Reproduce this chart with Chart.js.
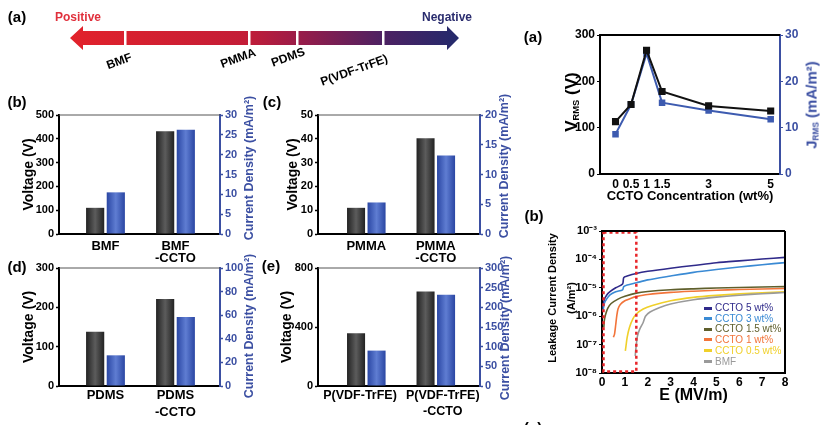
<!DOCTYPE html>
<html><head><meta charset="utf-8">
<script src="https://cdn.jsdelivr.net/npm/chart.js@4.4.1/dist/chart.umd.min.js"></script>
<style>
html,body{margin:0;padding:0;background:#fff;}
body{width:833px;height:425px;overflow:hidden;position:relative;font-family:"Liberation Sans",Arial,sans-serif;}
canvas{position:absolute;left:0;top:0;}
.t{position:absolute;white-space:nowrap;font-weight:bold;line-height:1;transform:translate(-50%,-50%);z-index:5;}
.r90{transform:translate(-50%,-50%) rotate(-90deg);}
.blue{color:#3b4fa2;}
sub{font-size:0.55em;vertical-align:-0.2em;}
.lg{position:absolute;left:704px;font-family:"Liberation Sans",Arial,sans-serif;font-size:10px;line-height:1;white-space:nowrap;transform:translateY(-50%);z-index:5;}
.lg i{display:inline-block;width:8px;height:3px;margin-right:3px;vertical-align:middle;}
</style></head>
<body>
<svg width="833" height="90" style="position:absolute;left:0;top:0">
<defs><linearGradient id="ag" x1="70" x2="459" y1="0" y2="0" gradientUnits="userSpaceOnUse">
<stop offset="0" stop-color="#e2222b"/><stop offset="0.45" stop-color="#c31d37"/><stop offset="0.58" stop-color="#9c1c48"/><stop offset="0.8" stop-color="#4e2162"/><stop offset="1" stop-color="#232a6c"/></linearGradient></defs>
<polygon points="70,38 83,26 83,31 447,31 447,26 459,38 447,50 447,45 83,45 83,50" fill="url(#ag)"/>
<rect x="124" y="29" width="2.5" height="18" fill="#fff"/>
<rect x="248" y="29" width="2.5" height="18" fill="#fff"/>
<rect x="296" y="29" width="2.5" height="18" fill="#fff"/>
<rect x="382" y="29" width="2.5" height="18" fill="#fff"/>
</svg>
<div class="t" style="left:17px;top:16px;font-size:15px">(a)</div>
<div class="t" style="left:78px;top:17px;font-size:12px;color:#e0303c">Positive</div>
<div class="t" style="left:447px;top:17px;font-size:12px;color:#2a2c6e">Negative</div>
<div class="t" style="left:119px;top:61px;font-size:12px;transform:translate(-50%,-50%) rotate(-20deg)">BMF</div>
<div class="t" style="left:238px;top:58px;font-size:12px;transform:translate(-50%,-50%) rotate(-20deg)">PMMA</div>
<div class="t" style="left:288px;top:57px;font-size:12px;transform:translate(-50%,-50%) rotate(-20deg)">PDMS</div>
<div class="t" style="left:354px;top:70px;font-size:12px;transform:translate(-50%,-50%) rotate(-20deg)">P(VDF-TrFE)</div>

<div class="t" style="left:17px;top:101px;font-size:15px">(b)</div>
<div class="t" style="left:272px;top:101px;font-size:15px">(c)</div>
<div class="t" style="left:17px;top:266px;font-size:15px">(d)</div>
<div class="t" style="left:271px;top:265px;font-size:15px">(e)</div>
<div class="t" style="left:533px;top:36px;font-size:15px">(a)</div>
<div class="t" style="left:534px;top:215px;font-size:15px">(b)</div>
<div class="t" style="left:533px;top:427px;font-size:15px">(c)</div>

<div class="t r90 blue" style="left:249px;top:168px;font-size:12.5px">Current Density (mA/m²)</div>
<div class="t r90 blue" style="left:504px;top:166px;font-size:12.5px">Current Density (mA/m²)</div>
<div class="t r90 blue" style="left:249px;top:326px;font-size:12.5px">Current Density (mA/m²)</div>
<div class="t r90 blue" style="left:505px;top:328px;font-size:12.5px">Current Density (mA/m²)</div>

<div class="t r90" style="left:572px;top:102px;font-size:17px">V<sub>RMS</sub> (V)</div>
<div class="t r90 blue" style="left:812px;top:105px;font-size:15px">J<sub>RMS</sub> (mA/m²)</div>
<div class="t r90" style="left:562px;top:298px;font-size:11px;line-height:19px;text-align:center">Leakage Current Density<br>(A/m²)</div>

<div id="legend"></div>

<canvas id="cb" width="833" height="425"></canvas>
<canvas id="cc" width="833" height="425"></canvas>
<canvas id="cd" width="833" height="425"></canvas>
<canvas id="ce" width="833" height="425"></canvas>
<canvas id="ca2" width="833" height="425"></canvas>
<canvas id="cb2" width="833" height="425"></canvas>

<script>
// ---------------- DATA ----------------
const bmfCats = ['BMF', ['BMF', '-CCTO']];
const bmfVoltage = [110, 432];
const bmfCurrent = [10.5, 26.3];

const pmmaCats = ['PMMA', ['PMMA', '-CCTO']];
const pmmaVoltage = [11, 40.2];
const pmmaCurrent = [5.3, 13.2];

const pdmsCats = ['PDMS', ['PDMS', '-CCTO']];
const pdmsVoltage = [138, 221];
const pdmsCurrent = [26, 58.4];

const pvdfCats = ['P(VDF-TrFE)', ['P(VDF-TrFE)', '-CCTO']];
const pvdfVoltage = [358, 641];
const pvdfCurrent = [90, 232];

const cctoWt = [0, 0.5, 1, 1.5, 3, 5];
const vRms = [113, 150, 267, 178, 147, 136];
const jRms = [8.6, 15, 26, 15.4, 13.7, 11.8];
const cctoTicks = [0, 0.5, 1, 1.5, 3, 5];

const leakNames = ['CCTO 5 wt%', 'CCTO 3 wt%', 'CCTO 1.5 wt%', 'CCTO 1 wt%', 'CCTO 0.5 wt%', 'BMF'];
const leakE5 = [0.04,0.1,0.2,0.35,0.6,0.9,0.95,1.1,1.5,2,3,4,5,6,7,8];
const leakJ5 = [2.0e-6,3.8e-6,5.5e-6,7.3e-6,1.0e-5,1.35e-5,2.3e-5,2.6e-5,3.2e-5,3.8e-5,4.9e-5,6.1e-5,7.6e-5,8.9e-5,1.03e-4,1.18e-4];
const leakE3 = [0.04,0.1,0.2,0.35,0.6,0.9,0.95,1.1,1.5,2,3,4,5,6,7,8];
const leakJ3 = [1.5e-6,2.8e-6,4.0e-6,5.6e-6,7.2e-6,8.5e-6,1.1e-5,1.25e-5,1.5e-5,1.9e-5,2.6e-5,3.5e-5,4.4e-5,5.4e-5,6.5e-5,7.7e-5];
const leakE15 = [0.08,0.1,0.15,0.25,0.4,0.7,1.0,1.5,2,3,4,5,6,7,8];
const leakJ15 = [4e-7,7e-7,1.1e-6,1.9e-6,2.8e-6,4.0e-6,5.0e-6,6.5e-6,7.4e-6,8.5e-6,9.2e-6,9.8e-6,1.03e-5,1.07e-5,1.1e-5];
const leakE1 = [0.5,0.55,0.6,0.65,0.7,0.8,1.0,1.3,1.5,2,3,4,5,6,7,8];
const leakJ1 = [1.8e-7,2.4e-7,5e-7,1.1e-6,1.8e-6,2.6e-6,3.5e-6,4.4e-6,4.9e-6,5.8e-6,6.9e-6,7.6e-6,8.2e-6,8.7e-6,9.1e-6,9.5e-6];
const leakE05 = [1.02,1.05,1.1,1.2,1.35,1.5,1.8,2.2,3,4,5,6,7,8];
const leakJ05 = [6e-8,9e-8,1.8e-7,4e-7,8e-7,1.2e-6,1.8e-6,2.4e-6,3.5e-6,4.6e-6,5.4e-6,6.1e-6,6.7e-6,7.2e-6];
const leakEBmf = [1.45,1.5,1.55,1.65,1.8,1.9,2.1,2.5,3,4,5,6,7,8];
const leakJBmf = [4e-8,1e-7,2e-7,3.5e-7,6e-7,1e-6,1.4e-6,2e-6,2.7e-6,3.8e-6,4.7e-6,5.5e-6,6.2e-6,6.8e-6];
const leakDecades = [-8, -7, -6, -5, -4, -3];
const eTicks = [0, 1, 2, 3, 4, 5, 6, 7, 8];
const dashRegion = [0, 1.5];

// ---------------- STYLE ----------------
const W = 833, H = 425;
const BLUE = '#3b4fa2';
const leakColors = ['#2f2a8a', '#3a8ad4', '#5f5f2c', '#f2743a', '#f0d02a', '#9a9a9a'];
Chart.defaults.font.family = '"Liberation Sans", Arial, sans-serif';
Chart.defaults.font.weight = 'bold';
Chart.defaults.animation = false;

const shadePlugin = {
  id: 'shade',
  beforeDatasetsDraw(chart) {
    const ctx = chart.ctx;
    chart.data.datasets.forEach((ds, i) => {
      const meta = chart.getDatasetMeta(i);
      meta.data.forEach(el => {
        const w = el.width, x0 = el.x - w / 2;
        const g = ctx.createLinearGradient(x0, 0, x0 + w, 0);
        g.addColorStop(0, ds.shade[0]); g.addColorStop(0.5, ds.shade[1]); g.addColorStop(1, ds.shade[0]);
        el.options.backgroundColor = g;
      });
    });
  }
};
function lines(sides) {
  return { id: 'frameLines', afterDraw(c) {
    const a = c.chartArea, x = c.ctx;
    x.save();
    sides.forEach(s => {
      x.strokeStyle = s.color; x.lineWidth = s.width; x.beginPath();
      if (s.side === 'top') { x.moveTo(a.left, a.top); x.lineTo(a.right, a.top); }
      if (s.side === 'right') { x.moveTo(a.right, a.top); x.lineTo(a.right, a.bottom); }
      x.stroke();
    });
    x.restore();
  }};
}
function pad(g) { return { left: g.L - g.lw, right: W - g.R - g.rw, top: g.T, bottom: H - g.B - g.bh }; }

function barPanel(id, g, cats, volt, curr, lMax, lStep, rMax, rStep) {
  const labelPos = g.labelPos || cats.map((c, i) => i + 1);
  return new Chart(document.getElementById(id), {
    type: 'bar',
    data: { datasets: [
      { data: volt.map((v, i) => ({ x: i + 1, y: v })), yAxisID: 'y', shade: ['#222222', '#5c5c5c'],
        backgroundColor: () => '#333', borderWidth: 0, categoryPercentage: 0.59, barPercentage: 0.88 },
      { data: curr.map((v, i) => ({ x: i + 1, y: v })), yAxisID: 'y1', shade: ['#2a46a3', '#5f7dd2'],
        backgroundColor: () => '#3a5ab8', borderWidth: 0, categoryPercentage: 0.59, barPercentage: 0.88 }
    ]},
    options: {
      responsive: false, animation: false,
      layout: { padding: pad(g) },
      plugins: { legend: { display: false }, tooltip: { enabled: false } },
      scales: {
        x: { type: 'linear', min: g.xmin, max: g.xmax, offset: false,
          afterBuildTicks: s => { s.ticks = labelPos.map(v => ({ value: v })); },
          afterFit: s => { s.height = g.bh; },
          grid: { display: false, drawTicks: false, offset: false }, border: { color: '#000', width: 2 },
          ticks: { padding: g.lp, maxRotation: 0, minRotation: 0, autoSkip: false, color: '#000',
            font: { size: g.fs || 13, weight: 'bold', lineHeight: g.lh }, callback: (v, i) => cats[i] } },
        y: { position: 'left', min: 0, max: lMax, afterFit: s => { s.width = g.lw; },
          grid: { drawOnChartArea: false, tickLength: 3, tickColor: '#000', tickWidth: 1.5 },
          border: { color: '#000', width: 2 },
          ticks: { stepSize: lStep, padding: 2, color: '#000', autoSkip: false, font: { size: 11, weight: 'bold' } },
          title: { display: true, text: 'Voltage (V)', color: '#000', font: { size: 14, weight: 'bold' }, padding: { top: 5, bottom: 0 } } },
        y1: { position: 'right', min: 0, max: rMax, afterFit: s => { s.width = g.rw; },
          grid: { drawOnChartArea: false, tickLength: 3, tickColor: BLUE, tickWidth: 1.5 },
          border: { color: BLUE, width: 2 },
          ticks: { stepSize: rStep, padding: 2, color: BLUE, autoSkip: false, font: { size: 11, weight: 'bold' } } }
      }
    },
    plugins: [shadePlugin, lines([{ side: 'top', color: '#555', width: 1 }])]
  });
}

const topRow = { lp: 6, lh: 0.96 };
const botRow = { lp: 1, lh: 1.3 };
barPanel('cb', Object.assign({ L: 59, R: 220, T: 115, B: 234, lw: 43, rw: 30, bh: 32, xmin: 0.336, xmax: 2.636 }, topRow),
  bmfCats, bmfVoltage, bmfCurrent, 500, 100, 30, 5);
barPanel('cc', Object.assign({ L: 318, R: 480, T: 115, B: 234, lw: 38, rw: 30, bh: 32, xmin: 0.305, xmax: 2.636 }, topRow),
  pmmaCats, pmmaVoltage, pmmaCurrent, 50, 10, 20, 5);
barPanel('cd', Object.assign({ L: 59, R: 220, T: 268, B: 386, lw: 43, rw: 30, bh: 36, xmin: 0.336, xmax: 2.636 }, botRow),
  pdmsCats, pdmsVoltage, pdmsCurrent, 300, 100, 100, 20);
barPanel('ce', Object.assign({ L: 318, R: 480, T: 268, B: 386, lw: 44, rw: 30, bh: 36, xmin: 0.305, xmax: 2.636,
  labelPos: [0.91, 2.1], fs: 12.5 }, botRow),
  pvdfCats, pvdfVoltage, pvdfCurrent, 800, 400, 300, 50);

// ---------- right (a): V_RMS / J_RMS vs CCTO ----------
const gA = { L: 600, R: 780, T: 35, B: 174, lw: 40, rw: 20, bh: 30 };
new Chart(document.getElementById('ca2'), {
  type: 'line',
  data: { datasets: [
    { data: cctoWt.map((x, i) => ({ x, y: vRms[i] })), yAxisID: 'y', borderColor: '#111', backgroundColor: '#111',
      borderWidth: 2, pointStyle: 'rect', pointRadius: 3.6, tension: 0 },
    { data: cctoWt.map((x, i) => ({ x, y: jRms[i] })), yAxisID: 'y1', borderColor: '#3d5bb0', backgroundColor: '#3d5bb0',
      borderWidth: 2, pointStyle: 'rect', pointRadius: 3.2, tension: 0 }
  ]},
  options: {
    responsive: false, animation: false, layout: { padding: pad(gA) },
    plugins: { legend: { display: false }, tooltip: { enabled: false } },
    scales: {
      x: { type: 'linear', min: -0.5, max: 5.3,
        afterBuildTicks: s => { s.ticks = cctoTicks.map(v => ({ value: v })); },
        afterFit: s => { s.height = gA.bh; },
        grid: { display: false, drawTicks: false }, border: { color: '#000', width: 2 },
        ticks: { padding: 3, maxRotation: 0, autoSkip: false, color: '#000', font: { size: 12, weight: 'bold' }, callback: v => String(v) },
        title: { display: true, text: 'CCTO Concentration (wt%)', color: '#000', font: { size: 13, weight: 'bold' }, padding: { top: 0, bottom: 0 } } },
      y: { position: 'left', min: 0, max: 300, afterFit: s => { s.width = gA.lw; },
        grid: { drawOnChartArea: false, tickLength: 3, tickColor: '#000' }, border: { color: '#000', width: 2 },
        ticks: { stepSize: 100, padding: 2, color: '#000', font: { size: 12, weight: 'bold' } } },
      y1: { position: 'right', min: 0, max: 30, afterFit: s => { s.width = gA.rw; },
        grid: { drawOnChartArea: false, tickLength: 3, tickColor: BLUE }, border: { color: BLUE, width: 2 },
        ticks: { stepSize: 10, padding: 2, color: BLUE, font: { size: 12, weight: 'bold' } } }
    }
  },
  plugins: [lines([{ side: 'top', color: '#000', width: 2 }])]
});

// ---------- right (b): leakage current ----------
const gB = { L: 602, R: 785, T: 231, B: 373, lw: 45, rw: 0, bh: 32 };
const leakE = [leakE5, leakE3, leakE15, leakE1, leakE05, leakEBmf];
const leakJ = [leakJ5, leakJ3, leakJ15, leakJ1, leakJ05, leakJBmf];
const supMap = { '-': '⁻', '0': '⁰', '1': '¹', '2': '²', '3': '³', '4': '⁴', '5': '⁵', '6': '⁶', '7': '⁷', '8': '⁸', '9': '⁹' };
const sup = n => String(n).split('').map(c => supMap[c]).join('');
const dashBox = { id: 'dashBox', afterDatasetsDraw(c) {
  const xs = c.scales.x, a = c.chartArea, ctx = c.ctx;
  const x0 = xs.getPixelForValue(dashRegion[0]), x1 = xs.getPixelForValue(dashRegion[1]);
  ctx.save(); ctx.setLineDash([3, 3]); ctx.strokeStyle = '#e8262a'; ctx.lineWidth = 2.5;
  ctx.strokeRect(x0 + 1.5, a.top + 1.5, x1 - x0 - 1.5, a.bottom - a.top - 3);
  ctx.restore();
}};
new Chart(document.getElementById('cb2'), {
  type: 'line',
  data: { datasets: leakNames.map((n, k) => ({
    label: n, data: leakE[k].map((x, i) => ({ x, y: leakJ[k][i] })),
    borderColor: leakColors[k], backgroundColor: leakColors[k], borderWidth: 1.6, pointRadius: 0, tension: 0.25
  })).reverse() },
  options: {
    responsive: false, animation: false, layout: { padding: pad(gB) },
    plugins: { legend: { display: false }, tooltip: { enabled: false } },
    scales: {
      x: { type: 'linear', min: 0, max: 8,
        afterBuildTicks: s => { s.ticks = eTicks.map(v => ({ value: v })); },
        afterFit: s => { s.height = gB.bh; },
        grid: { display: false, drawTicks: false }, border: { color: '#000', width: 2 },
        ticks: { padding: 2, maxRotation: 0, autoSkip: false, color: '#000', font: { size: 12, weight: 'bold' } },
        title: { display: true, text: 'E (MV/m)', color: '#000', font: { size: 16, weight: 'bold' }, padding: { top: 0, bottom: 0 } } },
      y: { type: 'logarithmic', min: 1e-8, max: 1e-3,
        afterBuildTicks: s => { s.ticks = leakDecades.map(d => ({ value: Math.pow(10, d) })); },
        afterFit: s => { s.width = gB.lw; },
        grid: { drawOnChartArea: false, tickLength: 3, tickColor: '#000' }, border: { color: '#000', width: 2 },
        ticks: { padding: 2, color: '#000', autoSkip: false, font: { size: 11, weight: 'bold' },
          callback: v => '10' + sup(Math.round(Math.log10(v))) } }
    }
  },
  plugins: [dashBox, lines([{ side: 'top', color: '#000', width: 2 }, { side: 'right', color: '#000', width: 2 }])]
});

// legend (HTML, inside plot)
const legendY = [308, 318.5, 329, 339.5, 350.5, 361.5];
document.getElementById('legend').innerHTML = leakNames.map((n, k) =>
  `<div class="lg" style="top:${legendY[k]}px;color:${leakColors[k]}"><i style="background:${leakColors[k]}"></i>${n}</div>`).join('');
</script>
</body></html>
